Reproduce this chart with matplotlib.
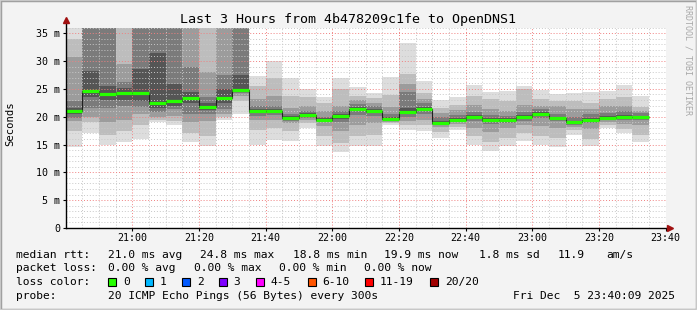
import numpy as np
import matplotlib
matplotlib.use("Agg")
import matplotlib.pyplot as plt
from matplotlib.patches import Rectangle

plt.rcParams['font.family'] = ['DejaVu Sans Mono']

# 5-minute rounds starting at 20:40, 35 rounds
bar_start = np.arange(35) * 5.0  # minutes after 20:40

median = [21.0, 24.7, 24.0, 24.2, 24.2, 22.4, 22.8, 23.4, 21.75, 23.4, 24.8, 21.0, 21.0, 19.8, 20.3, 19.4, 20.1, 21.4,
          21.0, 19.6, 20.8, 21.4, 18.8, 19.4, 19.95, 19.4, 19.4, 19.95, 20.5, 19.7, 19.0, 19.4, 19.8, 19.95, 19.9]

# smoke bands (outer -> inner), ms
lo1 = [14.5, 17.0, 15.0, 15.5, 16.0, 19.0, 18.5, 15.4, 14.7, 19.5, 20.5, 15.0, 15.9, 15.6, 17.9, 14.7, 13.7, 14.7,
       14.7, 18.5, 17.7, 17.4, 16.2, 17.7, 15.0, 13.8, 14.7, 15.6, 15.0, 14.5, 16.8, 14.7, 18.0, 17.1, 15.5]
lo2 = [17.4, 19.0, 16.8, 17.5, 18.5, 19.5, 19.2, 17.0, 16.5, 20.0, 22.8, 17.6, 18.0, 17.5, 18.8, 16.5, 15.3, 16.5,
       16.8, 18.8, 18.5, 18.5, 17.3, 18.2, 16.5, 15.5, 16.2, 17.0, 16.5, 16.2, 17.6, 16.0, 18.5, 17.8, 16.8]
lo3 = [19.2, 20.0, 19.0, 19.5, 20.5, 20.0, 20.2, 19.0, 19.2, 20.5, 23.8, 19.5, 19.5, 18.8, 19.4, 18.3, 17.5, 18.5,
       18.8, 19.0, 19.3, 19.5, 18.2, 18.7, 18.0, 17.3, 18.0, 18.5, 18.3, 18.0, 18.2, 17.8, 19.0, 18.7, 18.5]
lo4 = [19.8, 21.5, 21.5, 22.0, 21.7, 20.8, 21.3, 20.5, 20.5, 21.3, 24.2, 20.2, 20.3, 19.3, 19.8, 19.0, 19.0, 20.3,
       20.2, 19.3, 20.0, 20.5, 18.5, 19.0, 19.2, 18.7, 18.9, 19.3, 19.8, 19.2, 18.6, 18.9, 19.4, 19.4, 19.5]
lo5 = [20.4, 23.5, 23.0, 23.0, 22.8, 21.5, 22.0, 22.5, 21.2, 22.5, 24.5, 20.6, 20.7, 19.6, 20.0, 19.2, 19.6, 21.0,
       20.7, 19.5, 20.5, 21.0, 18.7, 19.2, 19.7, 19.1, 19.2, 19.7, 20.2, 19.5, 18.8, 19.2, 19.6, 19.7, 19.8]
hi5 = [21.5, 28.3, 25.5, 25.2, 28.5, 31.5, 25.9, 24.5, 22.5, 25.0, 27.5, 21.3, 21.4, 20.1, 20.6, 19.7, 20.5, 21.8,
       21.4, 19.9, 21.5, 21.8, 19.2, 19.7, 20.3, 19.7, 19.7, 20.3, 20.8, 20.0, 19.3, 19.7, 20.1, 20.3, 20.2]
hi4 = [22.8, 40, 40, 26.2, 40, 40, 40, 29.0, 23.5, 27.5, 40, 22.0, 22.0, 20.5, 21.0, 20.0, 21.0, 22.3,
       22.0, 20.5, 24.4, 22.5, 20.0, 20.3, 20.9, 20.3, 20.2, 20.9, 21.3, 20.5, 20.0, 20.4, 20.7, 21.0, 20.6]
hi3 = [30.7, 40, 40, 29.5, 40, 40, 40, 40, 28.0, 40, 40, 23.2, 23.8, 21.5, 22.0, 21.0, 22.0, 23.0,
       22.4, 21.7, 25.8, 23.1, 20.6, 21.2, 22.1, 21.3, 21.0, 22.1, 21.9, 21.9, 21.4, 21.3, 21.9, 21.9, 21.0]
hi2 = [34.0, 40, 40, 40, 40, 40, 40, 40, 40, 40, 40, 25.6, 27.0, 23.8, 23.5, 22.5, 25.0, 23.8,
       23.3, 23.9, 27.7, 24.3, 21.5, 22.1, 23.7, 23.1, 22.9, 24.9, 23.1, 22.9, 22.9, 22.4, 23.1, 23.6, 21.8]
hi1 = [40, 40, 40, 40, 40, 40, 40, 40, 40, 40, 40, 27.4, 30.1, 26.9, 24.9, 23.5, 27.0, 25.4,
       24.2, 27.2, 33.2, 26.4, 23.0, 23.5, 25.7, 24.4, 24.7, 25.5, 24.8, 24.1, 24.3, 24.5, 24.7, 25.7, 23.7]

x_ticks = [20, 40, 60, 80, 100, 120, 140, 160, 180]
x_labels = ["21:00", "21:20", "21:40", "22:00", "22:20", "22:40", "23:00", "23:20", "23:40"]
y_ticks = [0, 5, 10, 15, 20, 25, 30, 35]
y_labels = ["0", "5 m", "10 m", "15 m", "20 m", "25 m", "30 m", "35 m"]

loss_labels = ["0", "1", "2", "3", "4-5", "6-10", "11-19", "20/20"]
loss_colors = ["#26ff00", "#00b8ff", "#0059ff", "#7e00ff", "#ff00ff", "#ff5500", "#ff0000", "#a10000"]

W, H = 697, 310
fig = plt.figure(figsize=(W / 100, H / 100), dpi=100, facecolor="#f3f3f3")

def px(x, y):
    return x / W, 1 - y / H

# 3d-ish border
fig.add_artist(Rectangle((0, 0), 1, 1, transform=fig.transFigure, fill=False, edgecolor="#a0a0a0", lw=2.5))
fig.add_artist(Rectangle((0, 0), 1, 1, transform=fig.transFigure, fill=False, edgecolor="#d0d0d0", lw=1.2))

ax_l, ax_r, ax_t, ax_b = 65.7, 665.7, 27.7, 228.0
ax = fig.add_axes([ax_l / W, 1 - ax_b / H, (ax_r - ax_l) / W, (ax_b - ax_t) / H])
ax.set_facecolor("white")
ax.set_xlim(0, 180)
ax.set_ylim(0, 36)

band_colors = ["#dddddd", "#bdbdbd", "#9c9c9c", "#7b7b7b", "#555555"]
bands = [(lo1, hi1), (lo2, hi2), (lo3, hi3), (lo4, hi4), (lo5, hi5)]
for (lo, hi), c in zip(bands, band_colors):
    lo = np.array(lo)
    hi = np.array(hi)
    ax.bar(bar_start, hi - lo, bottom=lo, width=5, align="edge", color=c, linewidth=0, zorder=1)

# grid on top of smoke
dot = (0, (1, 2))
for v in np.arange(1, 37):
    if v % 5:
        ax.axhline(v, color="#c8c8c8", lw=0.7, ls=dot, zorder=2)
for m in np.arange(5, 181, 5):
    if m % 20:
        ax.axvline(m, color="#c8c8c8", lw=0.7, ls=dot, zorder=2)
for v in y_ticks[1:]:
    ax.axhline(v, color="#f08080", lw=0.7, ls=dot, zorder=2)
for m in x_ticks:
    ax.axvline(m, color="#f08080", lw=0.7, ls=dot, zorder=2)

# median line
edges = np.append(bar_start, bar_start[-1] + 5)
ax.stairs(median, edges, baseline=None, color="#202020", lw=0.8, zorder=3)
ax.hlines(median, bar_start, bar_start + 5, color="#26ff00", lw=2.3, zorder=4)

for s in ax.spines.values():
    s.set_visible(False)
ax.plot([0, 0], [0, 37.0], color="black", lw=1, clip_on=False, zorder=5)
ax.plot([0, 180.8], [0, 0], color="black", lw=1, clip_on=False, zorder=5)
ax.plot([0], [37.4], marker="^", color="#a01010", ms=4, clip_on=False, zorder=6)
ax.plot([181.3], [0], marker=">", color="#a01010", ms=4, clip_on=False, zorder=6)

ax.set_xticks(x_ticks)
ax.set_xticklabels(x_labels)
ax.set_yticks(y_ticks)
ax.set_yticklabels(y_labels)
ax.tick_params(axis="both", direction="out", length=2, width=0.8, labelsize=7.2, pad=1.8)

fig.text(*px(347.5, 19), "Last 3 Hours from 4b478209c1fe to OpenDNS1", ha="center", va="center", fontsize=9.6)
fig.text(*px(10, 124), "Seconds", rotation=90, ha="center", va="center", fontsize=7.6)
fig.text(*px(688, 60), "RRDTOOL / TOBI OETIKER", rotation=270, ha="center", va="center", fontsize=6.0,
         color="#a8a8a8")

# legend rows
fs = 8.1
rows = [
    (254.7, [(16.4, "median rtt:"), (107.6, "21.0 ms avg"), (200, "24.8 ms max"), (293.3, "18.8 ms min"),
             (384.4, "19.9 ms now"), (479, "1.8 ms sd"), (557.8, "11.9"), (606.7, "am/s")]),
    (268.3, [(16.4, "packet loss:"), (107.6, "0.00 % avg"), (194.2, "0.00 % max"), (279, "0.00 % min"),
             (364.4, "0.00 % now")]),
    (282.3, [(16.4, "loss color:")]),
    (296.3, [(16.4, "probe:"), (107.6, "20 ICMP Echo Pings (56 Bytes) every 300s"),
             (513.3, "Fri Dec  5 23:40:09 2025")]),
]
for y, items in rows:
    for x, t in items:
        fig.text(*px(x, y), t, ha="left", va="center", fontsize=fs)

box_x = [108.4, 145.3, 182.2, 219.0, 256.0, 307.6, 365.3, 430.2]
for bx, lab, c in zip(box_x, loss_labels, loss_colors):
    fig.add_artist(Rectangle(px(bx, 282.3 + 4), 8 / W, 8 / H, transform=fig.transFigure,
                             facecolor=c, edgecolor="black", lw=0.8))
    fig.text(*px(bx + 14.6, 282.3), lab, ha="left", va="center", fontsize=fs)

fig.savefig("out.png", dpi=100, facecolor=fig.get_facecolor())
